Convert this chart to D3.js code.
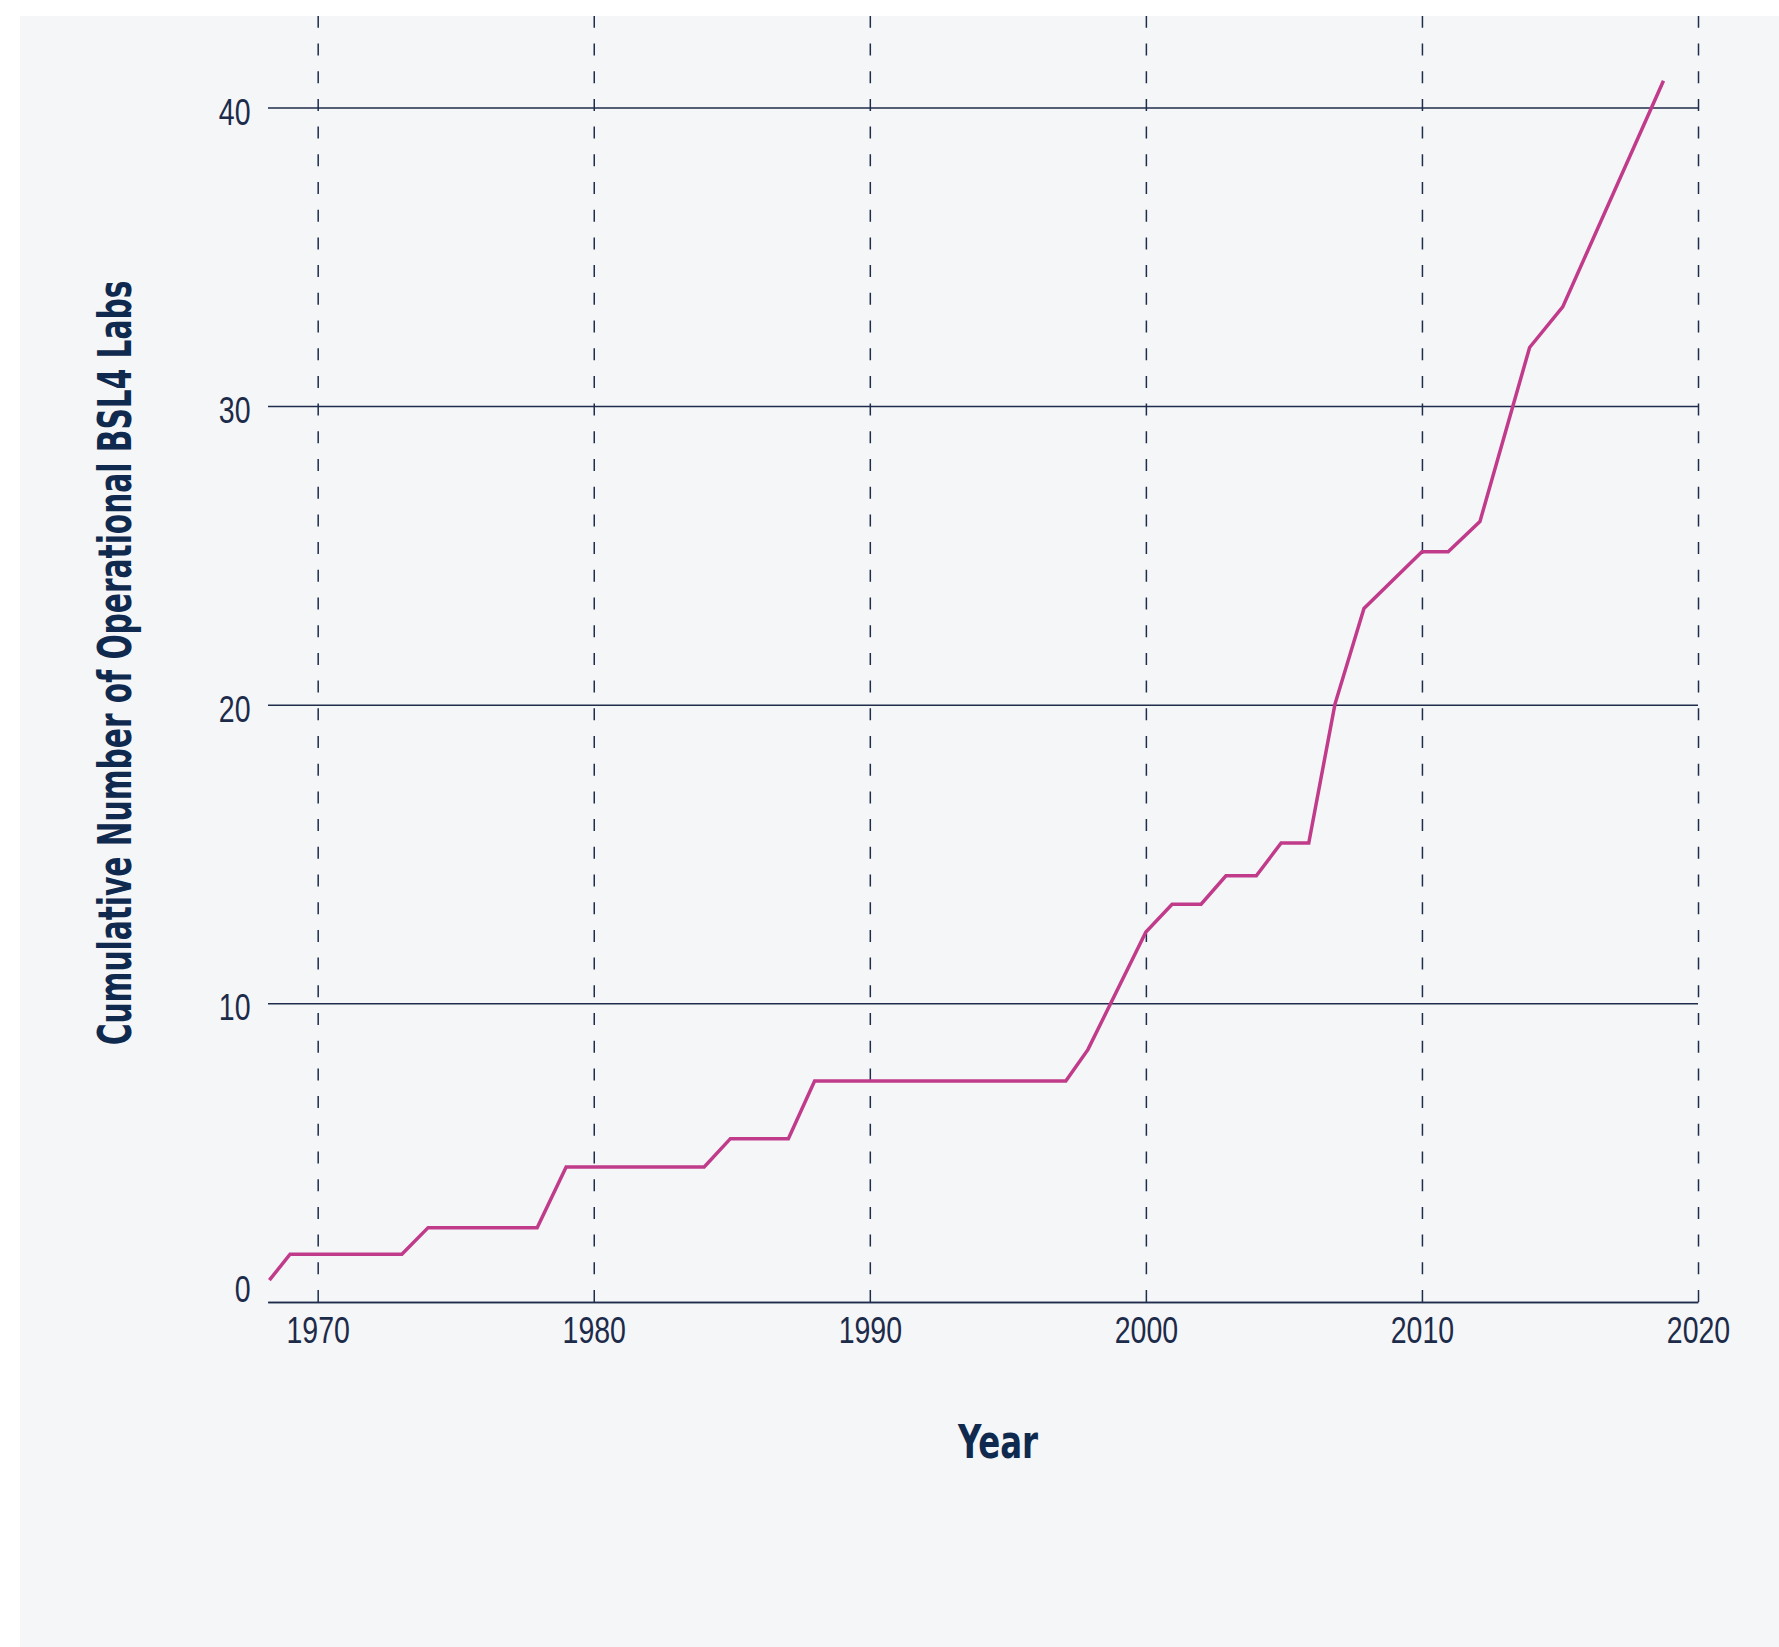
<!DOCTYPE html>
<html>
<head>
<meta charset="utf-8">
<script src="https://cdn.jsdelivr.net/npm/d3@7"></script>
<style>
  html, body { margin: 0; padding: 0; background: #ffffff; }
  svg { display: block; }
  .tick text { font-family: "Liberation Sans", Arial, sans-serif; fill: #1d2b4a; }
  .title { font-family: "DejaVu Sans Condensed", "Liberation Sans", sans-serif; font-weight: bold; fill: #0f2a4e; }
</style>
</head>
<body>
<svg id="chart"></svg>
<script>
// Data (year, cumulative labs)
const years = [1968.25, 1969, 1973.05, 1974, 1977.95, 1979, 1984, 1984.95, 1987.05, 1988,
               1997.1, 1997.9, 2000, 2000.95, 2002, 2002.9, 2004, 2004.9, 2005.9, 2006.85,
               2007.9, 2010, 2010.95, 2012.1, 2013.9, 2015.1, 2018.75];
const labs = [0.73, 1.6, 1.6, 2.49, 2.49, 4.52, 4.52, 5.47, 5.47, 7.4,
              7.4, 8.45, 12.39, 13.32, 13.32, 14.27, 14.27, 15.37, 15.37, 20.02,
              23.22, 25.12, 25.12, 26.13, 31.96, 33.32, 40.89];
const xTicks = [1970, 1980, 1990, 2000, 2010, 2020];
const yTicks = [0, 10, 20, 30, 40];

const W = 1779, H = 1647;
const margin = { top: 16, right: 81, bottom: 345, left: 268 };
const width = W - margin.left - margin.right;
const height = H - margin.top - margin.bottom;
const squeeze = 0.77; // condensed look for tick labels

const svg = d3.select("#chart")
    .attr("width", W)
    .attr("height", H);

// light panel
svg.append("rect")
    .attr("x", 20).attr("y", 16)
    .attr("width", W - 20).attr("height", H - 16)
    .attr("fill", "#f5f6f8");

const g = svg.append("g")
    .attr("transform", `translate(${margin.left},${margin.top})`);

const x = d3.scaleLinear().domain([1968.2, 2020]).range([0, width]);
const y = d3.scaleLinear().domain([0, 43.06]).range([height, 0]);

// y axis with solid gridlines
const yAxis = g.append("g")
    .call(d3.axisLeft(y).tickValues(yTicks).tickSize(-width).tickPadding(17.5));
yAxis.select(".domain").remove();
yAxis.selectAll(".tick line")
    .attr("stroke", "#1e2d4b")
    .attr("stroke-width", 1.5);
yAxis.selectAll(".tick text")
    .attr("font-size", 37)
    .attr("x", -17.5 / squeeze)
    .attr("transform", `scale(${squeeze},1)`)
    .attr("dy", d => d === 0 ? "-0.02em" : "0.45em");

// x axis with dashed gridlines
const xAxis = g.append("g")
    .attr("transform", `translate(0,${height})`)
    .call(d3.axisBottom(x).tickValues(xTicks).tickFormat(d3.format("d"))
        .tickSize(-height).tickSizeOuter(0).tickPadding(15));
xAxis.select(".domain")
    .attr("stroke", "#1e2d4b")
    .attr("stroke-width", 1.5);
xAxis.selectAll(".tick line")
    .attr("stroke", "#1e2d4b")
    .attr("stroke-width", 1.5)
    .attr("stroke-dasharray", "12,15.7");
xAxis.selectAll(".tick text")
    .attr("font-size", 37)
    .attr("transform", `scale(${squeeze},1)`);

// the line
const line = d3.line()
    .x((d, i) => x(years[i]))
    .y(d => y(d));

g.append("path")
    .datum(labs)
    .attr("fill", "none")
    .attr("stroke", "#c13b8b")
    .attr("stroke-width", 3.5)
    .attr("d", line);

// axis titles, squeezed horizontally to a target length
function title(txt, cx, cy, angle, target) {
    const t = svg.append("text")
        .attr("class", "title")
        .attr("text-anchor", "middle")
        .attr("font-size", 46)
        .text(txt);
    const len = t.node().getComputedTextLength();
    t.attr("transform", `translate(${cx},${cy}) rotate(${angle}) scale(${target / len},1)`);
}

title("Year", 998, 1458, 0, 80);
title("Cumulative Number of Operational BSL4 Labs", 131, 663, -90, 765);
</script>
</body>
</html>
